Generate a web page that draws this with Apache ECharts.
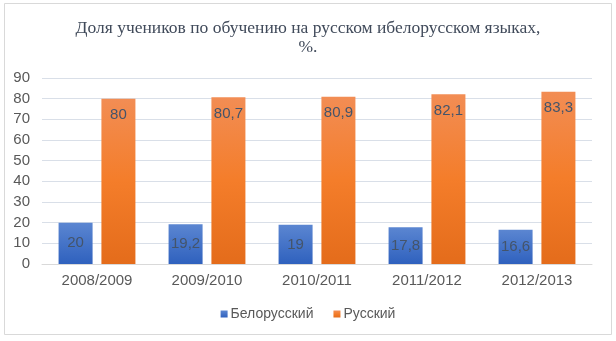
<!DOCTYPE html>
<html><head><meta charset="utf-8">
<script src="https://cdn.jsdelivr.net/npm/echarts@6/dist/echarts.min.js"></script>
<style>html,body{margin:0;padding:0;background:#fff}#c{width:616px;height:341px}</style>
</head><body><div id="c"></div>
<script>
const categories = ['2008/2009','2009/2010','2010/2011','2011/2012','2012/2013'];
const belarusian = [20, 19.2, 19, 17.8, 16.6];
const russian = [80, 80.7, 80.9, 82.1, 83.3];
const yTicks = {min: 0, max: 90, interval: 10};
const seriesNames = ['Белорусский', 'Русский'];
const titleText = 'Доля учеников по обучению на русском ибелорусском языках,\n%.';

const fmt = p => String(p.value).replace('.', ',');
const chart = echarts.init(document.getElementById('c'), null, {renderer: 'canvas'});
chart.setOption({
  backgroundColor: '#fff',
  animation: false,
  graphic: [{type: 'rect', shape: {x: 4.5, y: 3.5, width: 607, height: 331}, style: {fill: 'none', stroke: '#d9d9d9', lineWidth: 1}, silent: true}],
  title: {
    text: titleText, left: 'center', top: 14,
    textStyle: {fontFamily: 'Liberation Serif', fontSize: 17.5, fontWeight: 'normal', color: '#404a5a', lineHeight: 19}
  },
  legend: {
    bottom: 15, left: 'center', itemWidth: 7, itemHeight: 7, itemGap: 20, icon: 'rect',
    textStyle: {fontFamily: 'Liberation Sans', fontSize: 14, color: '#595959', padding: [0, 0, 0, -2]},
    data: seriesNames
  },
  grid: {left: 42, right: 24, top: 78, bottom: 77, containLabel: false},
  xAxis: {
    type: 'category', data: categories,
    axisLine: {lineStyle: {color: '#d9d9d9'}}, axisTick: {show: false},
    axisLabel: {fontFamily: 'Liberation Sans', fontSize: 15, color: '#595959', margin: 9}
  },
  yAxis: {
    type: 'value', min: yTicks.min, max: yTicks.max, interval: yTicks.interval,
    axisLine: {show: false}, axisTick: {show: false},
    splitLine: {lineStyle: {color: '#d9dfe8'}},
    axisLabel: {fontFamily: 'Liberation Sans', fontSize: 15, color: '#595959', margin: 12}
  },
  series: [
    {
      name: seriesNames[0], type: 'bar', data: belarusian, barWidth: 34, barGap: '26%',
      itemStyle: {color: new echarts.graphic.LinearGradient(0, 0, 0, 1, [{offset: 0, color: '#5b86d1'}, {offset: 1, color: '#2f61be'}])},
      label: {show: true, position: 'inside', formatter: fmt, fontFamily: 'Liberation Sans', fontSize: 15, color: '#44546a'}
    },
    {
      name: seriesNames[1], type: 'bar', data: russian, barWidth: 34,
      itemStyle: {color: new echarts.graphic.LinearGradient(0, 0, 0, 1, [{offset: 0, color: '#f28d54'}, {offset: 0.5, color: '#f47d2a'}, {offset: 1, color: '#e46c1b'}])},
      label: {show: true, position: 'insideTop', distance: 9, formatter: fmt, fontFamily: 'Liberation Sans', fontSize: 15, color: '#44546a'}
    }
  ]
});
</script></body></html>
